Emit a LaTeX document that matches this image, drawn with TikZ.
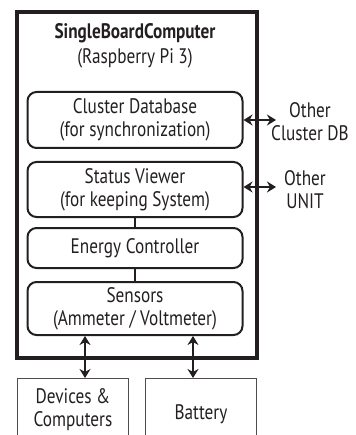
\documentclass[tikz,border=0pt]{standalone}
\usepackage{fontspec}
\setmainfont{PT Sans}[FakeStretch=0.82]
\usetikzlibrary{arrows.meta}
\definecolor{ink}{HTML}{231F20}
\begin{document}
\begin{tikzpicture}[x=1pt,y=-1pt,
  txt/.style={font=\fontsize{21}{23}\selectfont, text=ink, align=center, inner sep=0pt},
  module/.style={txt, draw=ink, line width=2pt, rounded corners=9pt, minimum width=215pt},
  plainbox/.style={txt, draw=ink!80, line width=1pt, minimum width=111pt, minimum height=70pt, anchor=north},
  link/.style={draw=ink, line width=2.2pt},
  biarrow/.style={draw=ink, line width=2.6pt, {Stealth[length=9pt,width=11pt]}-{Stealth[length=9pt,width=11pt]}}
]
\clip (0,0) rectangle (355,435);
\useasboundingbox (0,0) rectangle (355,435);

% board enclosure
\node (board) [draw=ink, line width=3.2pt, minimum width=240pt, minimum height=346pt, inner sep=0pt] at (137,185) {};
\node (title) [txt, font=\fontsize{21}{23}\selectfont\bfseries] at (135,33) {SingleBoardComputer};
\node (model) [txt] at (135,58) {(Raspberry Pi 3)};

% software modules
\node (db) [module, minimum height=56pt] at (135,120) {Cluster Database\\(for synchronization)};
\node (viewer) [module, minimum height=55pt] at (135,189.5) {Status Viewer\\(for keeping System)};
\node (energy) [module, minimum height=40pt] at (135,248) {Energy Controller};
\node (sensors) [module, minimum height=53pt] at (135,308.5) {Sensors\\(Ammeter / Voltmeter)};

\draw[link] (viewer.south) -- (energy.north);
\draw[link] (energy.south) -- (sensors.north);

% external peers
\node (otherdb) [txt] at (310,122) {Other\\Cluster DB};
\node (otherunit) [txt] at (305,190) {Other\\UNIT};
\coordinate (dbtip) at (276,120);
\coordinate (unittip) at (276,187);
\draw[biarrow] (db.east |- dbtip) -- (dbtip);
\draw[biarrow] (viewer.east |- unittip) -- (unittip);

% attached hardware
\node (devices) [plainbox] at (73,378) {};
\node (battery) [plainbox] at (201,378) {};
\node (devtxt) [txt] at (73,410) {Devices \&\\Computers};
\node (battxt) [txt] at (201,414) {Battery};

\coordinate (devx) at (85,0);
\coordinate (batx) at (193,0);
\draw[biarrow] (sensors.south -| devx) -- (devices.north -| devx);
\draw[biarrow] (sensors.south -| batx) -- (battery.north -| batx);
\end{tikzpicture}
\end{document}
